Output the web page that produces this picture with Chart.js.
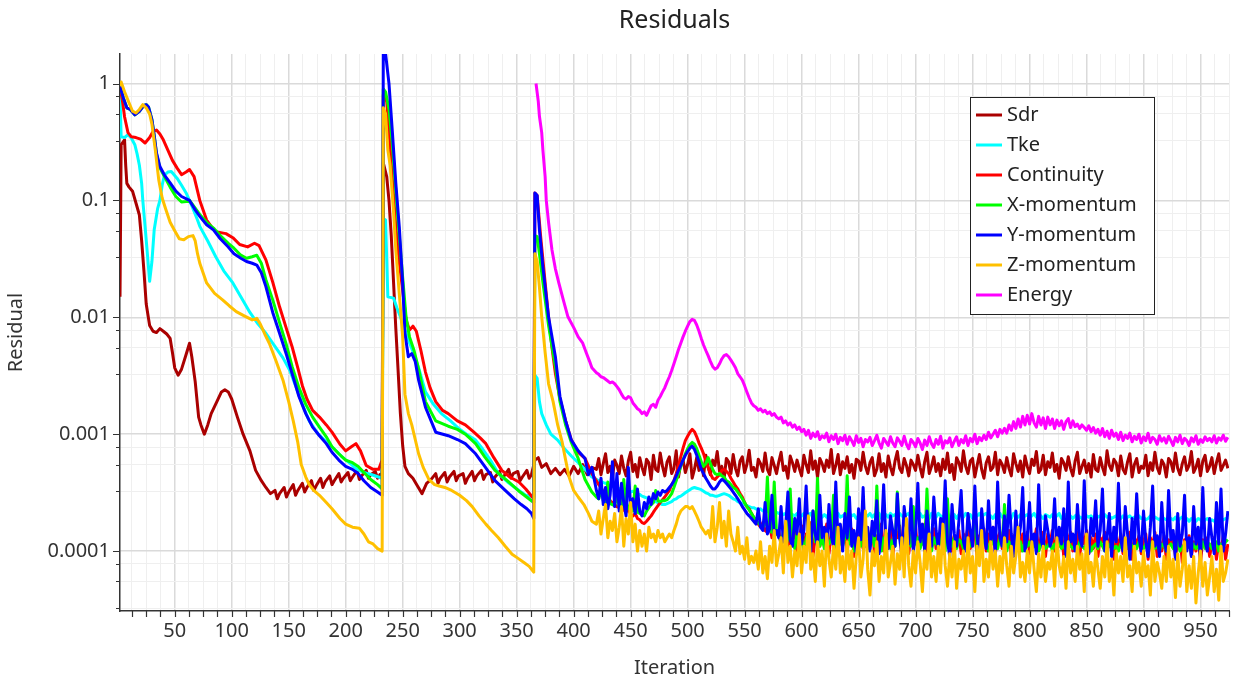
<!DOCTYPE html>
<html>
<head>
<meta charset="utf-8">
<title>Residuals</title>
<script src="https://cdn.jsdelivr.net/npm/chart.js@4.4.1/dist/chart.umd.min.js"></script>
<style>
    html, body { margin: 0; padding: 0; background: #fff; }
    #wrap { width: 1237px; height: 684px; }
</style>
</head>
<body>
<div id="wrap"><canvas id="residualChart" width="1237" height="684"></canvas></div>
<script>
/* ================= DATA ================= */
const chartTitle = 'Residuals';
const xTitle = 'Iteration';
const yTitle = 'Residual';

const seriesNames = ['Sdr', 'Tke', 'Continuity', 'X-momentum', 'Y-momentum', 'Z-momentum', 'Energy'];
const seriesColors = ['#aa0000', '#00ffff', '#ff0000', '#00ff00', '#0000ff', '#ffc000', '#ff00ff'];

const xTickLabels = [50, 100, 150, 200, 250, 300, 350, 400, 450, 500, 550, 600, 650, 700, 750, 800, 850, 900, 950];
const xMinorStep = 12.5;
const yTickValues = [1, 0.1, 0.01, 0.001, 0.0001];
const yTickLabels = ['1', '0.1', '0.01', '0.001', '0.0001'];
const yMinorFactors = [3.25, 5.5, 7.75];

// [iteration, residual] up to iteration 416
const sdrEarly = [[2,0.015],[3,0.3],[6,0.33],[7,0.2],[8,0.14],[10,0.13],[13,0.12],[16,0.095],[19,0.075],[21,0.045],[23,0.025],[25,0.013],[28,0.0085],[31,0.0076],[34,0.0074],[37,0.008],[40,0.0076],[43,0.0072],[46,0.0066],[48,0.005],[50,0.0037],[53,0.0032],[56,0.0036],[60,0.0048],[63,0.006],[65,0.0046],[68,0.0028],[71,0.0014],[73,0.0012],[76,0.001],[79,0.0012],[82,0.0015],[87,0.0019],[91,0.0023],[94,0.0024],[97,0.0023],[100,0.002],[105,0.0014],[110,0.001],[116,0.00072],[121,0.00049],[126,0.0004],[130,0.00035],[134,0.00031],
    [138,3.3e-4],[140,2.8e-4],[142,3.1e-4],[146,3.5e-4],[148,2.9e-4],[150,3.2e-4],[154,3.7e-4],[156,3.0e-4],[158,3.3e-4],[162,3.8e-4],[164,3.2e-4],[166,3.5e-4],[170,4.0e-4],[172,3.3e-4],[174,3.6e-4],[178,4.2e-4],[180,3.5e-4],[182,3.9e-4],[186,4.4e-4],[188,3.7e-4],[190,4.0e-4],[194,4.6e-4],[196,3.9e-4],[198,4.2e-4],[202,4.7e-4],[204,4.0e-4],[206,4.3e-4],[210,4.9e-4],[212,4.1e-4],[214,4.4e-4],[218,4.9e-4],[220,4.2e-4],[222,4.5e-4],[226,4.8e-4],[228,4.2e-4],[230,4.5e-4],[232,4.6e-4],
    [233,0.21],[236,0.16],[238,0.1],[240,0.05],[242,0.02],[244,0.008],[246,0.0035],[248,0.0015],[250,0.0008],[252,0.00053],[255,0.00046],[259,0.00042],[263,0.00036],[267,0.00031],[271,0.00038],[275,0.00041],
    [279,4.6e-4],[281,3.8e-4],[283,4.2e-4],[287,4.7e-4],[289,3.9e-4],[291,4.3e-4],[295,4.8e-4],[297,4.0e-4],[299,4.4e-4],[303,4.6e-4],[305,3.8e-4],[307,4.2e-4],[311,4.8e-4],[313,4.0e-4],[315,4.4e-4],[319,4.9e-4],[321,4.1e-4],[323,4.5e-4],[327,4.7e-4],[329,3.9e-4],[331,4.3e-4],[335,4.8e-4],[337,4.1e-4],[339,4.4e-4],[343,5.0e-4],[345,4.2e-4],[347,4.6e-4],[351,4.8e-4],[353,4.0e-4],[355,4.3e-4],[359,4.9e-4],[361,4.2e-4],[363,4.5e-4],
    [366,6.0e-4],[369,6.3e-4],[372,5.2e-4],[376,5.6e-4],[380,4.6e-4],[384,5.1e-4],[388,4.5e-4],[392,5.0e-4],[396,4.4e-4],[400,5.3e-4],[404,4.6e-4],[408,5.5e-4],[412,4.5e-4],[416,5.2e-4]];

const tkeEarly = [[2,0.8],[3,0.35],[6,0.345],[9,0.366],[12,0.34],[15,0.3],[17,0.25],[19,0.2],[21,0.14],[22,0.1],[24,0.06],[26,0.035],[28,0.0203],[30,0.03],[32,0.056],[35,0.085],[37,0.1],[39,0.135],[41,0.165],[44,0.175],[47,0.177],[52,0.155],[56,0.135],[60,0.116],[65,0.09],[70,0.068],[72,0.06],[79,0.045],[86,0.033],[93,0.025],[101,0.0197],[108,0.015],[116,0.011],[123,0.0088],[130,0.0073],[137,0.0058],[145,0.0045],[151,0.0035],[156,0.0026],[162,0.0018],[168,0.0013],[176,0.001],[182,0.00088],[188,0.00078],[196,0.00065],[203,0.00057],[210,0.0005],[216,0.00047],[223,0.00045],[232,0.00042],
    [233,0.07],[235,0.068],[237,0.015],[242,0.0146],[245,0.012],[248,0.0101],[252,0.0078],[255,0.0064],[260,0.0048],[264,0.0037],[270,0.0023],[277,0.0018],[284,0.0015],[292,0.0013],[300,0.0011],[306,0.001],[314,0.00089],[320,0.00075],[327,0.0006],[334,0.00046],[342,0.00039],[352,0.00033],[358,0.0003],[365,0.00029],
    [366,0.0032],[368,0.003],[370,0.0019],[372,0.0015],[376,0.0012],[380,0.001],[386,0.00089],[392,0.00075],[398,0.00065],[404,0.00057],[410,0.0005],[416,0.00043]];

const contEarly = [[2,0.9],[4,0.73],[6,0.52],[9,0.38],[12,0.35],[16,0.345],[20,0.335],[24,0.31],[28,0.345],[31,0.39],[34,0.4],[37,0.37],[40,0.33],[44,0.27],[48,0.22],[52,0.19],[56,0.166],[60,0.175],[63,0.184],[67,0.16],[72,0.1],[78,0.068],[82,0.06],[86,0.054],[95,0.052],[101,0.048],[107,0.042],[114,0.04],[120,0.043],[124,0.041],[130,0.031],[136,0.02],[142,0.0123],[148,0.008],[153,0.0056],[158,0.0037],[162,0.0026],[166,0.002],[171,0.0016],[177,0.0014],[183,0.0012],[188,0.00104],[195,0.00082],[200,0.00072],[205,0.00078],[209,0.00083],[213,0.00072],[218,0.00054],[224,0.0005],[229,0.0005],[232,0.0006],
    [233,0.8],[236,0.7],[238,0.4],[241,0.15],[244,0.06],[247,0.03],[250,0.017],[253,0.0095],[256,0.0078],[259,0.0084],[262,0.0076],[266,0.0052],[270,0.0034],[274,0.0025],[279,0.0019],[285,0.0016],[290,0.0015],[298,0.0013],[305,0.0012],[312,0.00105],[318,0.00093],[323,0.00083],[330,0.00063],[337,0.00049],[344,0.00043],[352,0.00039],[358,0.00034],[365,0.00028],
    [366,0.116],[368,0.11],[371,0.05],[374,0.025],[378,0.01],[381,0.0055],[384,0.0033],[388,0.002],[393,0.0013],[398,0.00089],[404,0.0007],[410,0.00062],[416,0.00046]];

const xmomEarly = [[2,0.95],[5,0.75],[8,0.62],[11,0.6],[15,0.54],[19,0.58],[23,0.65],[25,0.66],[27,0.63],[30,0.49],[32,0.36],[34,0.25],[37,0.19],[41,0.16],[46,0.13],[51,0.108],[56,0.097],[60,0.098],[63,0.1],[68,0.086],[72,0.076],[78,0.065],[84,0.058],[90,0.05],[97,0.043],[102,0.039],[108,0.034],[113,0.032],[118,0.033],[122,0.034],[126,0.029],[130,0.021],[136,0.0141],[142,0.009],[148,0.0058],[153,0.0038],[159,0.0025],[165,0.0018],[171,0.0014],[177,0.00115],[183,0.00095],[188,0.00078],[194,0.00068],[200,0.0006],[206,0.00057],[211,0.00053],[216,0.00047],[222,0.00041],[228,0.00037],[232,0.00034],
    [233,0.9],[235,0.85],[238,0.6],[241,0.3],[244,0.12],[247,0.05],[250,0.022],[253,0.01],[256,0.0068],[260,0.0052],[264,0.0036],[270,0.0019],[279,0.0013],[290,0.00117],[298,0.0011],[305,0.001],[314,0.00083],[322,0.00064],[331,0.00049],[343,0.00039],[353,0.00032],[365,0.00026],
    [366,0.05],[368,0.049],[370,0.035],[373,0.02],[378,0.0085],[384,0.0038],[388,0.0019],[393,0.0012],[398,0.00085],[404,0.00062],[410,0.00041],[416,0.00032]];

const ymomEarly = [[2,0.95],[5,0.75],[8,0.62],[11,0.6],[15,0.54],[19,0.58],[23,0.65],[25,0.66],[27,0.63],[30,0.49],[32,0.36],[34,0.255],[37,0.195],[41,0.165],[46,0.141],[51,0.12],[56,0.108],[63,0.1],[68,0.083],[72,0.073],[78,0.062],[84,0.056],[90,0.047],[97,0.04],[102,0.035],[108,0.032],[113,0.03],[118,0.029],[122,0.028],[126,0.024],[130,0.0183],[136,0.011],[142,0.0073],[148,0.0048],[153,0.0033],[159,0.0021],[165,0.0015],[171,0.00115],[177,0.00097],[183,0.00083],[188,0.0007],[194,0.0006],[200,0.00053],[206,0.0005],[211,0.00046],[216,0.0004],[222,0.00035],[228,0.00032],[232,0.0003],
    [233,1.9],[235,1.8],[238,1.0],[241,0.38],[244,0.14],[247,0.06],[250,0.0197],[252,0.0073],[255,0.0046],[258,0.0049],[261,0.0042],[264,0.0029],[270,0.0017],[279,0.00104],[290,0.00097],[298,0.0009],[305,0.00083],[314,0.00068],[322,0.00053],[331,0.0004],[340,0.00033],[348,0.00028],[354,0.00025],[359,0.00023],[363,0.00021],[365,0.00019],
    [366,0.116],[368,0.11],[370,0.056],[373,0.027],[378,0.0101],[384,0.0046],[388,0.0021],[393,0.0013],[398,0.00089],[404,0.00072],[410,0.00062],[413,0.00045],[416,0.00052]];

const zmomEarly = [[2,0.95],[3,1.03],[6,0.85],[9,0.72],[13,0.58],[16,0.56],[19,0.6],[22,0.66],[25,0.62],[28,0.55],[30,0.45],[33,0.27],[36,0.15],[39,0.105],[42,0.085],[46,0.065],[50,0.055],[54,0.047],[58,0.046],[62,0.049],[66,0.05],[68,0.045],[70,0.035],[72,0.029],[78,0.0197],[85,0.016],[92,0.0141],[98,0.0125],[104,0.0112],[111,0.0103],[118,0.0095],[122,0.0098],[125,0.0088],[129,0.0072],[133,0.006],[139,0.0042],[145,0.0029],[150,0.0019],[154,0.0013],[158,0.00085],[161,0.00055],[165,0.00043],[168,0.00037],[172,0.00033],[177,0.0003],[183,0.00026],[188,0.00023],[195,0.00019],[200,0.00017],[206,0.00016],[212,0.000157],[216,0.00014],[220,0.00012],[224,0.000115],[228,0.000105],[232,0.0001],
    [233,0.62],[235,0.55],[237,0.27],[239,0.2],[242,0.08],[244,0.038],[247,0.016],[250,0.0068],[252,0.0022],[255,0.0015],[258,0.0012],[264,0.00068],[268,0.00052],[273,0.00041],[278,0.00037],[282,0.00036],[287,0.00035],[293,0.00033],[300,0.0003],[306,0.00027],[311,0.00024],[317,0.0002],[323,0.00017],[328,0.00015],[334,0.00013],[340,0.00011],[346,0.000094],[351,0.000087],[357,0.000079],[361,0.000074],[365,0.000066],
    [366,0.035],[368,0.03],[370,0.018],[372,0.0101],[375,0.005],[378,0.0027],[382,0.0019],[386,0.0012],[390,0.00085],[393,0.0006],[396,0.00043],[400,0.00033],[404,0.00029],[409,0.00025],[413,0.00021],[416,0.00018]];

const energyEarly = [[367,1.0],[369,0.7],[370,0.525],[372,0.38],[373,0.272],[375,0.16],[376,0.1],[378,0.065],[381,0.0377],[384,0.026],[387,0.0197],[391,0.014],[395,0.0101],[400,0.0082],[404,0.0068],[408,0.006],[411,0.005],[414,0.0042],[416,0.0037]];

// iterations of the noisy tail (every second iteration), shared by all series
const lateIter = [420,422,424,426,428,430,432,434,436,438,
    440,442,444,446,448,450,452,454,456,458,
    460,462,464,466,468,470,472,474,476,478,
    480,482,484,486,488,490,492,494,496,498,
    500,502,504,506,508,510,512,514,516,518,
    520,522,524,526,528,530,532,534,536,538,
    540,542,544,546,548,550,552,554,556,558,
    560,562,564,566,568,570,572,574,576,578,
    580,582,584,586,588,590,592,594,596,598,
    600,602,604,606,608,610,612,614,616,618,
    620,622,624,626,628,630,632,634,636,638,
    640,642,644,646,648,650,652,654,656,658,
    660,662,664,666,668,670,672,674,676,678,
    680,682,684,686,688,690,692,694,696,698,
    700,702,704,706,708,710,712,714,716,718,
    720,722,724,726,728,730,732,734,736,738,
    740,742,744,746,748,750,752,754,756,758,
    760,762,764,766,768,770,772,774,776,778,
    780,782,784,786,788,790,792,794,796,798,
    800,802,804,806,808,810,812,814,816,818,
    820,822,824,826,828,830,832,834,836,838,
    840,842,844,846,848,850,852,854,856,858,
    860,862,864,866,868,870,872,874,876,878,
    880,882,884,886,888,890,892,894,896,898,
    900,902,904,906,908,910,912,914,916,918,
    920,922,924,926,928,930,932,934,936,938,
    940,942,944,946,948,950,952,954,956,958,
    960,962,964,966,968,970,972,974];

const sdrLate = [5.0e-4,6.2e-4,4.5e-4,5.6e-4,6.8e-4,4.7e-4,5.3e-4,4.2e-4,6.0e-4,5.4e-4,
    4.6e-4,6.5e-4,5.1e-4,4.4e-4,5.9e-4,7.0e-4,4.8e-4,5.5e-4,4.3e-4,6.3e-4,
    5.2e-4,4.5e-4,6.1e-4,5.7e-4,4.1e-4,6.6e-4,5.0e-4,4.8e-4,6.9e-4,5.3e-4,
    4.4e-4,5.8e-4,6.4e-4,4.6e-4,5.1e-4,7.2e-4,4.3e-4,5.6e-4,6.0e-4,4.7e-4,
    5.5e-4,6.8e-4,4.2e-4,5.0e-4,6.3e-4,4.9e-4,5.7e-4,4.4e-4,6.6e-4,5.2e-4,
    4.5e-4,6.0e-4,5.4e-4,7.1e-4,4.8e-4,5.3e-4,4.1e-4,6.2e-4,5.8e-4,4.6e-4,
    6.7e-4,5.1e-4,4.4e-4,5.9e-4,6.4e-4,4.7e-4,5.5e-4,7.3e-4,4.9e-4,5.2e-4,
    4.3e-4,6.1e-4,5.6e-4,4.8e-4,6.9e-4,5.0e-4,4.5e-4,6.3e-4,5.4e-4,4.6e-4,
    5.8e-4,7.0e-4,4.9e-4,5.3e-4,4.2e-4,6.5e-4,5.7e-4,4.8e-4,6.0e-4,5.1e-4,
    4.4e-4,6.6e-4,5.5e-4,4.7e-4,7.2e-4,5.0e-4,5.9e-4,4.3e-4,6.2e-4,5.6e-4,
    4.8e-4,6.0e-4,5.2e-4,7.4e-4,4.6e-4,5.4e-4,6.7e-4,4.5e-4,5.8e-4,5.1e-4,
    6.4e-4,4.7e-4,5.5e-4,4.2e-4,6.1e-4,5.9e-4,4.9e-4,7.0e-4,5.3e-4,4.6e-4,
    5.7e-4,6.3e-4,4.4e-4,5.0e-4,6.8e-4,4.8e-4,5.6e-4,4.3e-4,6.5e-4,5.2e-4,
    4.5e-4,5.9e-4,7.1e-4,5.1e-4,4.7e-4,6.2e-4,5.4e-4,4.4e-4,6.0e-4,5.5e-4,
    4.9e-4,6.6e-4,5.2e-4,4.3e-4,5.8e-4,7.0e-4,4.6e-4,5.3e-4,6.4e-4,4.8e-4,
    5.6e-4,4.4e-4,6.1e-4,5.0e-4,6.9e-4,4.7e-4,5.5e-4,4.1e-4,6.3e-4,5.7e-4,
    4.8e-4,7.2e-4,5.3e-4,4.6e-4,5.9e-4,6.2e-4,4.3e-4,5.4e-4,6.7e-4,5.0e-4,
    4.2e-4,5.7e-4,6.4e-4,4.9e-4,5.2e-4,7.0e-4,4.5e-4,6.0e-4,5.5e-4,4.7e-4,
    6.3e-4,5.1e-4,4.4e-4,6.8e-4,5.6e-4,4.8e-4,5.9e-4,4.3e-4,6.5e-4,5.3e-4,
    4.6e-4,6.1e-4,5.4e-4,7.1e-4,4.7e-4,5.0e-4,6.6e-4,4.5e-4,5.8e-4,5.2e-4,
    6.9e-4,4.8e-4,5.5e-4,4.2e-4,6.2e-4,5.7e-4,4.9e-4,6.4e-4,5.1e-4,4.4e-4,
    5.9e-4,7.0e-4,4.6e-4,5.3e-4,6.0e-4,4.7e-4,5.6e-4,4.3e-4,6.7e-4,5.0e-4,
    4.8e-4,6.3e-4,5.2e-4,4.5e-4,7.2e-4,5.4e-4,4.9e-4,6.1e-4,5.7e-4,4.4e-4,
    6.5e-4,5.0e-4,4.6e-4,5.8e-4,6.8e-4,4.3e-4,5.5e-4,6.2e-4,4.7e-4,5.3e-4,
    5.1e-4,6.6e-4,4.4e-4,5.7e-4,4.9e-4,7.0e-4,5.2e-4,4.6e-4,6.0e-4,5.5e-4,
    4.3e-4,6.2e-4,5.8e-4,4.8e-4,6.9e-4,5.1e-4,4.5e-4,5.6e-4,6.4e-4,4.9e-4,
    5.4e-4,7.1e-4,4.7e-4,5.2e-4,6.1e-4,4.4e-4,5.9e-4,6.6e-4,4.8e-4,5.3e-4,
    6.3e-4,4.6e-4,5.7e-4,6.8e-4,4.9e-4,5.4e-4,6.0e-4,5.1e-4];

const tkeLate = [4.1e-4,4.0e-4,3.95e-4,3.85e-4,3.8e-4,3.7e-4,3.65e-4,3.6e-4,3.55e-4,3.5e-4,
    3.4e-4,3.45e-4,3.35e-4,3.3e-4,3.3e-4,3.2e-4,3.25e-4,3.15e-4,3.1e-4,3.05e-4,
    2.95e-4,2.9e-4,2.85e-4,2.8e-4,2.75e-4,2.7e-4,2.65e-4,2.6e-4,2.55e-4,2.5e-4,
    2.5e-4,2.55e-4,2.6e-4,2.65e-4,2.75e-4,2.8e-4,2.9e-4,2.95e-4,3.05e-4,3.15e-4,
    3.25e-4,3.35e-4,3.45e-4,3.5e-4,3.45e-4,3.4e-4,3.35e-4,3.25e-4,3.15e-4,3.1e-4,
    3.0e-4,3.0e-4,2.95e-4,2.95e-4,3.0e-4,3.05e-4,3.1e-4,3.05e-4,3.0e-4,2.9e-4,
    2.8e-4,2.75e-4,2.65e-4,2.6e-4,2.55e-4,2.5e-4,2.45e-4,2.4e-4,2.35e-4,2.35e-4,
    2.3e-4,2.25e-4,2.3e-4,2.2e-4,2.25e-4,2.2e-4,2.15e-4,2.2e-4,2.1e-4,2.15e-4,
    2.1e-4,2.15e-4,2.05e-4,2.1e-4,2.0e-4,2.1e-4,2.05e-4,2.0e-4,2.1e-4,1.95e-4,
    2.0e-4,2.1e-4,1.95e-4,2.05e-4,2.1e-4,1.9e-4,2.05e-4,2.0e-4,2.1e-4,1.95e-4,
    2.05e-4,1.95e-4,2.1e-4,2.0e-4,1.9e-4,2.05e-4,2.1e-4,1.95e-4,2.0e-4,2.05e-4,
    1.95e-4,2.1e-4,2.0e-4,2.05e-4,1.9e-4,2.0e-4,2.1e-4,1.95e-4,2.05e-4,2.0e-4,
    2.1e-4,1.95e-4,2.05e-4,2.0e-4,2.1e-4,1.9e-4,2.0e-4,2.05e-4,1.95e-4,2.1e-4,
    2.0e-4,2.05e-4,1.95e-4,2.1e-4,2.0e-4,1.95e-4,2.05e-4,2.1e-4,1.9e-4,2.0e-4,
    2.05e-4,2.0e-4,2.1e-4,1.95e-4,2.0e-4,2.05e-4,1.9e-4,2.1e-4,2.0e-4,1.95e-4,
    2.1e-4,2.0e-4,1.95e-4,2.05e-4,2.1e-4,1.95e-4,2.0e-4,2.05e-4,1.9e-4,2.05e-4,
    2.0e-4,1.95e-4,2.1e-4,2.0e-4,2.05e-4,1.9e-4,2.05e-4,2.0e-4,2.1e-4,1.95e-4,
    2.05e-4,2.1e-4,1.95e-4,2.0e-4,1.9e-4,2.05e-4,2.0e-4,2.1e-4,1.95e-4,2.0e-4,
    2.0e-4,2.05e-4,1.9e-4,2.1e-4,2.0e-4,1.95e-4,2.05e-4,1.9e-4,2.0e-4,2.05e-4,
    1.95e-4,2.0e-4,2.1e-4,1.95e-4,2.05e-4,2.0e-4,1.9e-4,2.05e-4,2.0e-4,1.95e-4,
    2.05e-4,1.95e-4,2.0e-4,2.1e-4,1.9e-4,2.0e-4,2.05e-4,1.95e-4,2.0e-4,1.9e-4,
    2.0e-4,2.05e-4,1.95e-4,1.9e-4,2.05e-4,2.0e-4,1.95e-4,2.0e-4,1.9e-4,2.05e-4,
    1.95e-4,2.0e-4,1.9e-4,2.05e-4,1.95e-4,2.0e-4,1.9e-4,1.95e-4,2.0e-4,1.9e-4,
    1.9e-4,2.0e-4,1.85e-4,1.95e-4,2.0e-4,1.9e-4,1.95e-4,1.85e-4,2.0e-4,1.9e-4,
    1.95e-4,1.85e-4,1.9e-4,2.0e-4,1.85e-4,1.95e-4,1.9e-4,1.85e-4,1.95e-4,1.9e-4,
    1.85e-4,1.95e-4,1.9e-4,1.85e-4,1.95e-4,1.8e-4,1.9e-4,1.95e-4,1.85e-4,1.9e-4,
    1.8e-4,1.9e-4,1.85e-4,1.8e-4,1.9e-4,1.85e-4,1.75e-4,1.85e-4,1.9e-4,1.8e-4,
    1.85e-4,1.8e-4,1.9e-4,1.85e-4,1.8e-4,1.85e-4,1.9e-4,1.85e-4];

const contLate = [4.0e-4,3.7e-4,3.5e-4,3.2e-4,3.0e-4,2.85e-4,2.7e-4,2.6e-4,2.5e-4,2.4e-4,
    2.35e-4,2.6e-4,2.25e-4,2.15e-4,2.3e-4,2.05e-4,2.0e-4,2.1e-4,1.9e-4,1.85e-4,
    1.75e-4,1.72e-4,1.8e-4,1.9e-4,2.0e-4,2.15e-4,2.3e-4,2.45e-4,2.6e-4,2.75e-4,
    2.9e-4,3.1e-4,3.3e-4,3.7e-4,4.0e-4,4.6e-4,5.4e-4,6.4e-4,7.6e-4,8.8e-4,
    9.6e-4,1.04e-3,1.1e-3,1.05e-3,9.5e-4,8.4e-4,7.6e-4,6.8e-4,5.9e-4,5.2e-4,
    4.6e-4,4.2e-4,4.1e-4,4.3e-4,4.5e-4,4.9e-4,5.0e-4,4.8e-4,4.6e-4,4.2e-4,
    3.9e-4,3.6e-4,3.4e-4,3.1e-4,2.9e-4,2.6e-4,2.4e-4,2.3e-4,2.1e-4,1.95e-4,
    1.8e-4,1.7e-4,1.6e-4,1.75e-4,1.5e-4,1.45e-4,1.65e-4,1.3e-4,1.55e-4,1.4e-4,
    1.5e-4,1.1e-4,1.35e-4,1.7e-4,1.0e-4,1.4e-4,1.25e-4,1.6e-4,9.5e-5,1.3e-4,
    1.65e-4,1.05e-4,1.4e-4,1.2e-4,1.75e-4,9.0e-5,1.35e-4,1.5e-4,1.1e-4,1.45e-4,
    1.2e-4,1.7e-4,9.5e-5,1.4e-4,1.3e-4,1.6e-4,1.0e-4,1.45e-4,1.15e-4,1.8e-4,
    1.0e-4,1.35e-4,1.55e-4,9.0e-5,1.4e-4,1.2e-4,1.65e-4,1.05e-4,1.3e-4,1.5e-4,
    1.1e-4,1.6e-4,9.5e-5,1.35e-4,1.25e-4,1.7e-4,1.0e-4,1.4e-4,1.15e-4,1.55e-4,
    9.0e-5,1.45e-4,1.3e-4,1.65e-4,1.05e-4,1.2e-4,1.5e-4,9.5e-5,1.4e-4,1.25e-4,
    1.6e-4,1.0e-4,1.35e-4,1.15e-4,1.7e-4,9.0e-5,1.4e-4,1.3e-4,1.55e-4,1.05e-4,
    1.3e-4,1.5e-4,9.5e-5,1.4e-4,1.2e-4,1.65e-4,1.0e-4,1.35e-4,1.1e-4,1.5e-4,
    9.5e-5,1.4e-4,1.25e-4,1.6e-4,1.05e-4,1.3e-4,1.45e-4,9.0e-5,1.35e-4,1.2e-4,
    1.55e-4,1.0e-4,1.4e-4,1.15e-4,1.6e-4,9.5e-5,1.3e-4,1.45e-4,1.05e-4,1.35e-4,
    1.2e-4,1.5e-4,9.0e-5,1.35e-4,1.25e-4,1.6e-4,1.0e-4,1.4e-4,1.1e-4,1.45e-4,
    9.5e-5,1.35e-4,1.2e-4,1.55e-4,1.0e-4,1.3e-4,1.45e-4,9.0e-5,1.4e-4,1.15e-4,
    1.5e-4,1.0e-4,1.3e-4,1.1e-4,1.55e-4,9.0e-5,1.35e-4,1.25e-4,1.45e-4,1.0e-4,
    1.3e-4,1.45e-4,9.0e-5,1.35e-4,1.15e-4,1.5e-4,9.5e-5,1.3e-4,1.05e-4,1.4e-4,
    9.0e-5,1.3e-4,1.2e-4,1.45e-4,9.5e-5,1.25e-4,1.4e-4,8.5e-5,1.3e-4,1.1e-4,
    1.4e-4,9.5e-5,1.25e-4,1.05e-4,1.45e-4,8.5e-5,1.3e-4,1.15e-4,1.35e-4,9.5e-5,
    1.2e-4,1.4e-4,8.5e-5,1.3e-4,1.1e-4,1.45e-4,9.0e-5,1.25e-4,1.0e-4,1.35e-4,
    8.5e-5,1.25e-4,1.15e-4,1.4e-4,9.0e-5,1.2e-4,1.35e-4,8.0e-5,1.25e-4,1.05e-4,
    1.35e-4,9.0e-5,1.2e-4,1.0e-4,1.4e-4,8.0e-5,1.25e-4,1.1e-4,1.3e-4,9.0e-5,
    1.15e-4,1.3e-4,8.5e-5,1.2e-4,1.0e-4,1.35e-4,8.5e-5,1.15e-4];

const xmomLate = [2.9e-4,2.8e-4,3.3e-4,2.7e-4,2.6e-4,3.9e-4,2.55e-4,2.5e-4,2.45e-4,3.0e-4,
    2.4e-4,2.35e-4,4.1e-4,2.3e-4,2.3e-4,2.6e-4,2.2e-4,3.6e-4,2.15e-4,2.1e-4,
    2.05e-4,2.0e-4,2.2e-4,2.35e-4,2.5e-4,2.6e-4,3.3e-4,2.7e-4,2.65e-4,2.7e-4,
    2.7e-4,2.75e-4,2.9e-4,3.1e-4,3.5e-4,4.0e-4,4.6e-4,5.3e-4,6.0e-4,6.8e-4,
    7.5e-4,8.1e-4,8.5e-4,8.2e-4,7.5e-4,6.6e-4,5.8e-4,5.3e-4,5.6e-4,6.3e-4,
    5.6e-4,5.0e-4,4.6e-4,4.5e-4,4.6e-4,4.4e-4,4.3e-4,4.0e-4,3.9e-4,3.7e-4,
    3.5e-4,3.4e-4,3.2e-4,3.0e-4,2.8e-4,2.6e-4,2.4e-4,2.25e-4,2.1e-4,1.95e-4,
    1.85e-4,1.75e-4,1.65e-4,1.6e-4,1.7e-4,4.3e-4,1.5e-4,1.45e-4,3.9e-4,1.4e-4,
    1.35e-4,1.2e-4,1.45e-4,1.1e-4,1.3e-4,3.4e-4,1.25e-4,1.05e-4,1.4e-4,1.15e-4,
    1.3e-4,1.0e-4,1.25e-4,1.5e-4,1.1e-4,2.2e-4,1.2e-4,4.2e-4,1.1e-4,1.3e-4,
    1.05e-4,1.35e-4,1.15e-4,1.25e-4,3.0e-4,1.0e-4,1.4e-4,1.2e-4,1.1e-4,1.3e-4,
    4.4e-4,1.15e-4,1.25e-4,1.0e-4,1.35e-4,1.2e-4,1.1e-4,2.6e-4,1.3e-4,1.05e-4,
    1.2e-4,1.35e-4,1.1e-4,3.6e-4,1.25e-4,1.0e-4,1.3e-4,1.15e-4,1.4e-4,1.05e-4,
    1.25e-4,1.1e-4,3.2e-4,1.3e-4,1.15e-4,1.0e-4,1.35e-4,1.2e-4,1.1e-4,2.4e-4,
    1.15e-4,1.3e-4,1.05e-4,1.25e-4,1.1e-4,3.4e-4,1.2e-4,1.0e-4,1.3e-4,1.15e-4,
    1.1e-4,1.25e-4,1.35e-4,1.0e-4,2.8e-4,1.2e-4,1.1e-4,1.3e-4,1.05e-4,1.25e-4,
    1.2e-4,1.05e-4,1.3e-4,1.15e-4,1.1e-4,1.25e-4,2.2e-4,1.0e-4,1.2e-4,1.1e-4,
    1.3e-4,1.1e-4,1.0e-4,1.25e-4,1.15e-4,1.2e-4,1.05e-4,1.3e-4,1.1e-4,2.5e-4,
    1.0e-4,1.2e-4,1.15e-4,1.05e-4,1.25e-4,1.1e-4,1.2e-4,1.0e-4,1.15e-4,1.1e-4,
    1.2e-4,1.05e-4,1.1e-4,1.25e-4,1.0e-4,1.15e-4,1.2e-4,1.05e-4,1.1e-4,1.2e-4,
    1.0e-4,1.15e-4,1.1e-4,1.2e-4,1.05e-4,1.15e-4,1.0e-4,1.2e-4,1.1e-4,1.05e-4,
    1.15e-4,1.0e-4,1.2e-4,1.1e-4,1.05e-4,1.15e-4,1.2e-4,1.0e-4,1.1e-4,1.15e-4,
    1.05e-4,1.2e-4,1.1e-4,1.0e-4,1.15e-4,1.1e-4,1.2e-4,1.05e-4,1.1e-4,1.0e-4,
    1.15e-4,1.1e-4,1.05e-4,1.2e-4,1.0e-4,1.1e-4,1.15e-4,1.05e-4,1.2e-4,1.1e-4,
    1.05e-4,1.15e-4,1.0e-4,1.1e-4,1.2e-4,1.05e-4,1.1e-4,1.0e-4,1.15e-4,1.1e-4,
    1.0e-4,1.1e-4,1.15e-4,1.05e-4,1.1e-4,1.2e-4,1.0e-4,1.1e-4,1.05e-4,1.15e-4,
    1.1e-4,1.0e-4,1.15e-4,1.05e-4,1.1e-4,1.0e-4,1.2e-4,1.05e-4,1.1e-4,1.15e-4,
    1.05e-4,1.1e-4,1.2e-4,1.0e-4,1.15e-4,1.1e-4,1.2e-4,1.25e-4];

const ymomLate = [3.3e-4,2.8e-4,4.2e-4,2.5e-4,3.5e-4,2.3e-4,3.0e-4,5.8e-4,2.4e-4,4.6e-4,
    2.2e-4,3.8e-4,2.6e-4,2.0e-4,5.2e-4,2.3e-4,2.8e-4,2.1e-4,3.4e-4,2.2e-4,
    2.0e-4,2.6e-4,2.3e-4,2.9e-4,2.5e-4,3.1e-4,2.8e-4,3.2e-4,3.0e-4,3.3e-4,
    3.2e-4,3.3e-4,3.5e-4,3.7e-4,4.0e-4,4.4e-4,4.9e-4,5.4e-4,6.0e-4,6.6e-4,
    7.1e-4,7.6e-4,7.9e-4,7.4e-4,6.6e-4,5.8e-4,5.0e-4,4.6e-4,4.2e-4,3.9e-4,
    3.6e-4,3.4e-4,3.4e-4,3.6e-4,3.9e-4,4.1e-4,4.0e-4,3.8e-4,3.6e-4,3.4e-4,
    3.2e-4,3.0e-4,2.8e-4,2.6e-4,2.4e-4,2.25e-4,2.1e-4,2.0e-4,1.9e-4,1.8e-4,
    1.7e-4,2.3e-4,1.6e-4,1.5e-4,2.6e-4,1.4e-4,1.55e-4,3.0e-4,1.35e-4,1.5e-4,
    1.3e-4,2.4e-4,1.2e-4,1.6e-4,3.2e-4,1.25e-4,1.1e-4,1.9e-4,1.4e-4,2.8e-4,
    1.15e-4,1.5e-4,3.6e-4,1.2e-4,1.0e-4,2.2e-4,1.4e-4,1.1e-4,3.0e-4,1.3e-4,
    1.6e-4,1.05e-4,2.5e-4,1.35e-4,1.1e-4,3.9e-4,1.2e-4,1.7e-4,1.0e-4,2.1e-4,
    1.3e-4,2.9e-4,1.1e-4,1.5e-4,9.5e-5,2.3e-4,1.25e-4,3.5e-4,1.1e-4,1.6e-4,
    1.0e-4,1.8e-4,1.35e-4,2.7e-4,9.5e-5,1.4e-4,3.7e-4,1.2e-4,1.05e-4,2.0e-4,
    1.5e-4,1.1e-4,3.1e-4,1.3e-4,9.0e-5,2.4e-4,1.6e-4,1.15e-4,2.8e-4,1.0e-4,
    1.4e-4,3.8e-4,1.2e-4,1.7e-4,1.0e-4,2.2e-4,1.3e-4,1.1e-4,2.9e-4,1.5e-4,
    1.05e-4,1.9e-4,1.35e-4,4.0e-4,1.2e-4,9.0e-5,2.5e-4,1.4e-4,1.1e-4,1.8e-4,
    3.3e-4,1.2e-4,1.0e-4,2.1e-4,1.5e-4,1.1e-4,3.6e-4,1.3e-4,9.0e-5,2.3e-4,
    1.4e-4,1.05e-4,2.7e-4,1.25e-4,1.6e-4,9.5e-5,3.9e-4,1.3e-4,1.1e-4,2.0e-4,
    1.2e-4,3.0e-4,1.4e-4,9.0e-5,2.2e-4,1.15e-4,1.6e-4,3.5e-4,1.0e-4,1.3e-4,
    2.6e-4,1.1e-4,1.4e-4,9.5e-5,3.7e-4,1.25e-4,1.05e-4,2.0e-4,1.5e-4,1.1e-4,
    1.3e-4,2.8e-4,1.0e-4,1.6e-4,1.15e-4,2.3e-4,9.0e-5,3.9e-4,1.2e-4,1.4e-4,
    1.0e-4,2.5e-4,1.3e-4,1.1e-4,4.0e-4,1.2e-4,9.5e-5,1.9e-4,1.35e-4,2.7e-4,
    1.1e-4,1.5e-4,3.4e-4,1.0e-4,1.3e-4,2.1e-4,9.0e-5,1.6e-4,1.2e-4,3.8e-4,
    1.25e-4,1.0e-4,2.4e-4,1.4e-4,8.5e-5,1.9e-4,1.15e-4,3.1e-4,1.3e-4,1.0e-4,
    2.2e-4,1.2e-4,9.0e-5,1.6e-4,3.6e-4,1.1e-4,1.35e-4,9.0e-5,2.6e-4,1.2e-4,
    1.0e-4,3.3e-4,1.25e-4,1.5e-4,8.5e-5,2.1e-4,1.1e-4,1.4e-4,3.0e-4,1.0e-4,
    1.3e-4,9.0e-5,2.4e-4,1.15e-4,1.6e-4,8.5e-5,3.5e-4,1.2e-4,1.0e-4,1.9e-4,
    1.3e-4,9.5e-5,2.6e-4,1.15e-4,3.4e-4,1.0e-4,1.4e-4,2.2e-4];

const zmomLate = [1.7e-4,2.2e-4,1.4e-4,1.9e-4,2.5e-4,1.3e-4,1.8e-4,1.5e-4,2.1e-4,1.2e-4,
    1.6e-4,2.4e-4,1.1e-4,1.9e-4,1.4e-4,2.6e-4,1.2e-4,1.7e-4,1.0e-4,1.5e-4,
    1.1e-4,1.4e-4,1.0e-4,1.6e-4,1.3e-4,1.4e-4,1.2e-4,1.5e-4,1.3e-4,1.4e-4,
    1.2e-4,1.3e-4,1.4e-4,1.3e-4,1.5e-4,1.7e-4,2.0e-4,2.2e-4,2.3e-4,2.4e-4,
    2.4e-4,2.3e-4,2.4e-4,2.2e-4,2.0e-4,1.8e-4,1.6e-4,1.5e-4,1.4e-4,1.5e-4,
    1.3e-4,2.4e-4,1.2e-4,1.6e-4,2.6e-4,1.3e-4,1.8e-4,1.1e-4,2.2e-4,1.4e-4,
    1.2e-4,1.0e-4,1.6e-4,9.5e-5,1.1e-4,8.5e-5,1.3e-4,7.8e-5,9.0e-5,8.0e-5,
    1.0e-4,7.0e-5,1.2e-4,6.5e-5,9.0e-5,5.8e-5,1.1e-4,8.0e-5,1.5e-4,7.5e-5,
    9.5e-5,1.3e-4,6.5e-5,1.8e-4,8.0e-5,1.1e-4,6.0e-5,1.0e-4,7.5e-5,1.4e-4,
    6.5e-5,1.1e-4,8.0e-5,2.0e-4,7.0e-5,9.5e-5,5.5e-5,1.2e-4,7.5e-5,1.0e-4,
    5.0e-5,1.4e-4,8.5e-5,6.0e-5,1.1e-4,7.0e-5,1.6e-4,6.5e-5,9.0e-5,5.5e-5,
    1.2e-4,7.0e-5,1.0e-4,4.8e-5,9.0e-5,1.3e-4,6.0e-5,8.5e-5,2.2e-4,7.0e-5,
    4.2e-5,1.0e-4,7.5e-5,1.2e-4,5.5e-5,9.0e-5,6.5e-5,1.5e-4,6.0e-5,8.0e-5,
    1.1e-4,5.2e-5,9.5e-5,7.0e-5,1.3e-4,6.0e-5,1.9e-4,7.5e-5,5.0e-5,1.0e-4,
    6.5e-5,1.2e-4,8.0e-5,4.5e-5,1.0e-4,7.0e-5,1.4e-4,6.0e-5,9.0e-5,5.5e-5,
    1.1e-4,6.5e-5,1.7e-4,7.5e-5,5.0e-5,9.5e-5,6.0e-5,1.2e-4,4.8e-5,8.5e-5,
    7.0e-5,1.0e-4,5.5e-5,1.3e-4,6.5e-5,9.0e-5,4.5e-5,1.1e-4,7.5e-5,1.5e-4,
    5.5e-5,8.5e-5,6.0e-5,1.2e-4,7.0e-5,1.0e-4,5.0e-5,9.0e-5,6.5e-5,1.3e-4,
    7.5e-5,5.0e-5,1.1e-4,6.5e-5,9.0e-5,1.6e-4,6.0e-5,8.0e-5,5.5e-5,1.0e-4,
    6.5e-5,1.2e-4,7.0e-5,4.5e-5,9.5e-5,6.0e-5,1.1e-4,5.5e-5,8.0e-5,7.0e-5,
    1.0e-4,5.0e-5,1.3e-4,7.5e-5,6.0e-5,9.0e-5,4.8e-5,1.2e-4,6.5e-5,8.5e-5,
    5.5e-5,1.1e-4,7.0e-5,9.5e-5,4.5e-5,1.4e-4,6.5e-5,8.0e-5,5.0e-5,1.0e-4,
    7.0e-5,4.8e-5,9.0e-5,6.0e-5,1.2e-4,5.5e-5,8.5e-5,4.2e-5,1.0e-4,6.5e-5,
    9.0e-5,5.5e-5,1.3e-4,6.0e-5,7.5e-5,4.5e-5,1.1e-4,6.5e-5,8.0e-5,5.0e-5,
    1.0e-4,6.0e-5,7.5e-5,4.2e-5,1.2e-4,5.5e-5,8.0e-5,6.5e-5,4.8e-5,9.0e-5,
    5.5e-5,1.1e-4,6.0e-5,8.5e-5,4.0e-5,9.5e-5,5.0e-5,7.0e-5,1.2e-4,4.5e-5,
    7.5e-5,4.8e-5,9.0e-5,3.6e-5,6.5e-5,1.0e-4,5.0e-5,8.0e-5,4.2e-5,6.0e-5,
    9.0e-5,4.5e-5,7.0e-5,3.8e-5,1.1e-4,5.5e-5,6.5e-5,8.5e-5];

const energyLate = [3.35e-3,3.25e-3,3.1e-3,3.05e-3,2.95e-3,2.85e-3,2.75e-3,2.8e-3,2.7e-3,2.55e-3,
    2.4e-3,2.2e-3,2.05e-3,2.0e-3,2.1e-3,2.05e-3,1.85e-3,1.75e-3,1.65e-3,1.6e-3,
    1.5e-3,1.55e-3,1.45e-3,1.6e-3,1.75e-3,1.8e-3,1.7e-3,1.95e-3,2.1e-3,2.3e-3,
    2.5e-3,2.8e-3,3.1e-3,3.5e-3,4.0e-3,4.6e-3,5.3e-3,6.0e-3,6.8e-3,7.6e-3,
    8.4e-3,9.2e-3,9.6e-3,9.4e-3,8.6e-3,7.6e-3,6.6e-3,5.8e-3,5.2e-3,4.7e-3,
    4.2e-3,3.8e-3,3.6e-3,3.7e-3,4.0e-3,4.4e-3,4.7e-3,4.8e-3,4.6e-3,4.3e-3,
    4.0e-3,3.7e-3,3.3e-3,3.1e-3,2.9e-3,2.6e-3,2.3e-3,2.05e-3,1.85e-3,1.75e-3,
    1.7e-3,1.6e-3,1.65e-3,1.55e-3,1.6e-3,1.5e-3,1.55e-3,1.45e-3,1.5e-3,1.4e-3,
    1.35e-3,1.4e-3,1.25e-3,1.3e-3,1.2e-3,1.25e-3,1.15e-3,1.2e-3,1.1e-3,1.15e-3,
    1.05e-3,1.1e-3,9.8e-4,1.08e-3,9.2e-4,1.02e-3,9.5e-4,1.05e-3,9.0e-4,9.7e-4,
    9.3e-4,1.02e-3,8.6e-4,9.7e-4,9.0e-4,1.0e-3,8.3e-4,9.4e-4,8.8e-4,9.8e-4,
    8.2e-4,9.5e-4,8.8e-4,8.0e-4,9.7e-4,8.5e-4,9.2e-4,7.8e-4,9.0e-4,8.6e-4,
    9.4e-4,8.0e-4,8.8e-4,9.8e-4,8.4e-4,7.6e-4,9.2e-4,8.6e-4,8.0e-4,9.5e-4,
    8.4e-4,7.8e-4,9.3e-4,8.7e-4,8.0e-4,9.6e-4,8.2e-4,7.5e-4,9.0e-4,8.5e-4,
    7.8e-4,9.2e-4,8.4e-4,7.4e-4,8.9e-4,8.0e-4,9.5e-4,8.3e-4,7.7e-4,9.0e-4,
    8.2e-4,9.6e-4,7.6e-4,8.8e-4,8.4e-4,9.3e-4,7.8e-4,8.7e-4,9.5e-4,8.0e-4,
    9.0e-4,8.4e-4,9.7e-4,8.0e-4,9.2e-4,8.6e-4,1.0e-3,8.3e-4,9.4e-4,8.8e-4,
    9.8e-4,9.0e-4,1.04e-3,9.3e-4,1.0e-3,1.08e-3,9.5e-4,1.1e-3,1.02e-3,1.12e-3,
    1.02e-3,1.2e-3,1.08e-3,1.28e-3,1.12e-3,1.35e-3,1.15e-3,1.42e-3,1.2e-3,1.45e-3,
    1.22e-3,1.5e-3,1.25e-3,1.15e-3,1.42e-3,1.2e-3,1.38e-3,1.12e-3,1.4e-3,1.2e-3,
    1.35e-3,1.12e-3,1.32e-3,1.18e-3,1.3e-3,1.1e-3,1.28e-3,1.36e-3,1.14e-3,1.3e-3,
    1.16e-3,1.22e-3,1.12e-3,1.2e-3,1.14e-3,1.08e-3,1.18e-3,1.05e-3,1.14e-3,1.02e-3,
    1.1e-3,9.8e-4,1.12e-3,9.5e-4,1.06e-3,9.2e-4,1.08e-3,9.6e-4,1.02e-3,9.0e-4,
    1.04e-3,8.8e-4,9.8e-4,9.2e-4,1.02e-3,8.6e-4,9.6e-4,9.0e-4,1.0e-3,8.4e-4,
    9.5e-4,8.8e-4,1.02e-3,8.5e-4,9.4e-4,9.0e-4,8.2e-4,9.7e-4,8.7e-4,9.3e-4,
    8.4e-4,9.6e-4,8.8e-4,8.0e-4,9.4e-4,8.6e-4,9.8e-4,8.3e-4,9.2e-4,8.8e-4,
    8.0e-4,9.3e-4,8.6e-4,9.7e-4,8.2e-4,9.0e-4,8.5e-4,9.5e-4,8.8e-4,9.2e-4,
    8.6e-4,9.7e-4,8.4e-4,9.3e-4,8.9e-4,9.8e-4,8.7e-4,9.4e-4];

/* ================= HELPERS ================= */
const FONT = '"Noto Sans", "Open Sans", "DejaVu Sans", sans-serif';
const TEXT_COLOR = '#333333';

function buildPoints(early, late) {
    const head = early.map(p => ({ x: p[0], y: p[1] }));
    const tail = lateIter.map((it, i) => ({ x: it, y: late[i] }));
    return head.concat(tail);
}

function isDecade(v) {
    return yTickValues.some(d => Math.abs(d - v) / d < 1e-6);
}

const seriesData = [
    buildPoints(sdrEarly, sdrLate),
    buildPoints(tkeEarly, tkeLate),
    buildPoints(contEarly, contLate),
    buildPoints(xmomEarly, xmomLate),
    buildPoints(ymomEarly, ymomLate),
    buildPoints(zmomEarly, zmomLate),
    buildPoints(energyEarly, energyLate)
];

/* ================= EXTRA DRAWING (title, ticks, legend) ================= */
const decorations = {
    id: 'decorations',
    afterDraw(chart) {
        const { ctx, chartArea, scales } = chart;
        ctx.save();

        // tick marks outside the axes
        ctx.strokeStyle = '#333';
        ctx.lineWidth = 1.2;
        ctx.beginPath();
        scales.y.ticks.forEach(t => {
            const py = Math.round(scales.y.getPixelForValue(t.value)) + 0.5;
            const len = isDecade(t.value) ? 7 : 4;
            ctx.moveTo(chartArea.left - len, py);
            ctx.lineTo(chartArea.left, py);
        });
        scales.x.ticks.forEach(t => {
            const px = Math.round(scales.x.getPixelForValue(t.value)) + 0.5;
            ctx.moveTo(px, chartArea.bottom);
            ctx.lineTo(px, chartArea.bottom + 6);
        });
        ctx.stroke();

        // title centred over the plot
        ctx.fillStyle = '#222';
        ctx.font = `25px ${FONT}`;
        ctx.textAlign = 'center';
        ctx.textBaseline = 'middle';
        ctx.fillText(chartTitle, (chartArea.left + chartArea.right) / 2, 21);

        // legend box
        const bx = 970, by = 97, bw = 184, bh = 217;
        ctx.fillStyle = '#fff';
        ctx.fillRect(bx, by, bw, bh);
        ctx.strokeStyle = '#222';
        ctx.lineWidth = 1;
        ctx.strokeRect(bx + 0.5, by + 0.5, bw, bh);

        ctx.font = `20px ${FONT}`;
        ctx.textAlign = 'left';
        chart.data.datasets.forEach((ds, i) => {
            const ly = by + 18 + i * 30;
            ctx.strokeStyle = ds.borderColor;
            ctx.lineWidth = 3;
            ctx.beginPath();
            ctx.moveTo(bx + 6, ly);
            ctx.lineTo(bx + 32, ly);
            ctx.stroke();
            ctx.fillStyle = '#222';
            ctx.fillText(ds.label, bx + 37, ly);
        });

        ctx.restore();
    }
};

/* ================= CHART ================= */
function renderResidualChart() {
    Chart.defaults.font.family = FONT;
    Chart.defaults.color = TEXT_COLOR;

    const ctx = document.getElementById('residualChart');
    new Chart(ctx, {
        type: 'line',
        data: {
            datasets: seriesNames.map((name, i) => ({
                label: name,
                data: seriesData[i],
                borderColor: seriesColors[i],
                backgroundColor: seriesColors[i],
                borderWidth: 3,
                pointRadius: 0,
                tension: 0,
                fill: false,
                borderJoinStyle: 'round',
                order: seriesNames.length - i // later series on top
            }))
        },
        options: {
            responsive: false,
            animation: false,
            devicePixelRatio: 1,
            layout: { padding: { top: 54, right: 4, left: 0, bottom: 0 } },
            plugins: {
                legend: { display: false },
                title: { display: false },
                tooltip: { enabled: false }
            },
            scales: {
                x: {
                    type: 'linear',
                    min: 2,
                    max: 975,
                    bounds: 'data',
                    afterBuildTicks: s => {
                        const t = [];
                        for (let v = xMinorStep; v <= s.max; v += xMinorStep) {
                            if (v >= s.min) t.push({ value: v });
                        }
                        s.ticks = t;
                    },
                    afterFit: s => { s.height = 73; },
                    ticks: {
                        autoSkip: false,
                        maxRotation: 0,
                        padding: 8,
                        color: TEXT_COLOR,
                        font: { size: 20 },
                        callback: v => xTickLabels.includes(v) ? String(v) : ''
                    },
                    grid: {
                        drawTicks: false,
                        color: c => (c.tick && c.tick.value % 50 === 0) ? '#dadada' : '#efefef',
                        lineWidth: c => (c.tick && c.tick.value % 50 === 0) ? 1.5 : 1
                    },
                    border: { color: '#333', width: 1.5 },
                    title: {
                        display: true,
                        text: xTitle,
                        color: TEXT_COLOR,
                        font: { size: 20 },
                        padding: { top: 0, bottom: 4 }
                    }
                },
                y: {
                    type: 'logarithmic',
                    min: 3.07e-5,
                    max: 1.79,
                    bounds: 'data',
                    afterBuildTicks: s => {
                        const t = [];
                        for (let e = -5; e <= 0; e++) {
                            const base = Math.pow(10, e);
                            [1].concat(yMinorFactors).forEach(m => {
                                const v = base * m;
                                if (v >= s.min && v <= s.max) t.push({ value: v });
                            });
                        }
                        s.ticks = t;
                    },
                    afterFit: s => { s.width = 120; },
                    ticks: {
                        autoSkip: false,
                        padding: 10,
                        color: TEXT_COLOR,
                        font: { size: 20 },
                        callback: v => {
                            const i = yTickValues.findIndex(d => Math.abs(d - v) / d < 1e-6);
                            return i >= 0 ? yTickLabels[i] : '';
                        }
                    },
                    grid: {
                        drawTicks: false,
                        color: c => (c.tick && isDecade(c.tick.value)) ? '#dadada' : '#efefef',
                        lineWidth: c => (c.tick && isDecade(c.tick.value)) ? 1.5 : 1
                    },
                    border: { color: '#333', width: 1.5 },
                    title: {
                        display: true,
                        text: yTitle,
                        color: TEXT_COLOR,
                        font: { size: 20 },
                        padding: { top: 4, bottom: 0 }
                    }
                }
            }
        },
        plugins: [decorations]
    });
}

renderResidualChart();
</script>
</body>
</html>
